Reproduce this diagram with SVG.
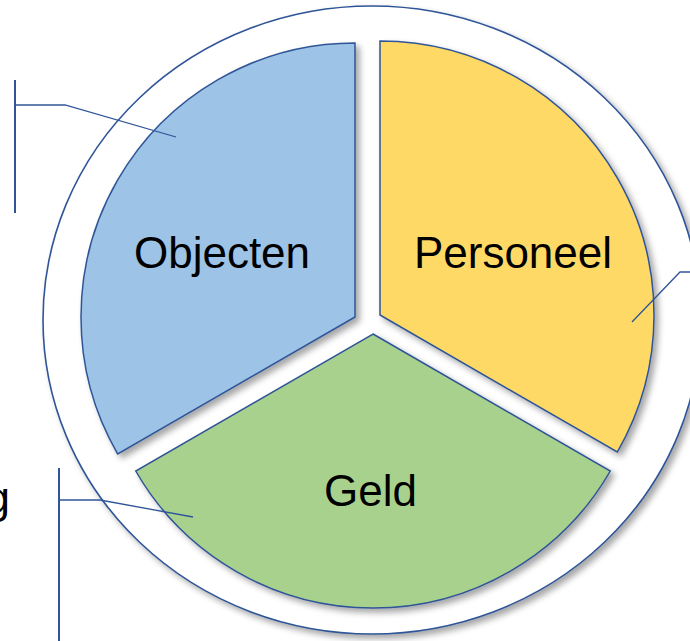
<svg xmlns="http://www.w3.org/2000/svg" width="690" height="641" viewBox="0 0 690 641">
<defs>
<filter id="sh" x="-10%" y="-10%" width="130%" height="130%">
<feDropShadow dx="4" dy="4" stdDeviation="3" flood-color="#000" flood-opacity="0.35"/>
</filter>
</defs>
<style>
.lbl{font-family:"Liberation Sans",Arial,sans-serif;font-size:44px;fill:#000;text-anchor:middle}
.sec{stroke:#2F5597;stroke-width:1.5;filter:url(#sh)}
.co{fill:none;stroke:#2F5597;stroke-width:1.3}
.bar{fill:none;stroke:#2F5597;stroke-width:2}
</style>
<rect width="690" height="641" fill="#fff"/>
<g id="outer">
<ellipse cx="372" cy="320" rx="329" ry="314" fill="#fff" stroke="#2F5597" stroke-width="1.6" filter="url(#sh)"/>
</g>
<g id="objecten">
<path class="sec" fill="#9DC3E6" d="M355,317 L117.7,454 A274,274 0 0 1 355,43 Z"/>
<text class="lbl" x="222" y="268">Objecten</text>
</g>
<g id="personeel">
<path class="sec" fill="#FFD966" d="M380,315 L380,41 A274,274 0 0 1 617.3,452 Z"/>
<text class="lbl" x="513" y="268">Personeel</text>
</g>
<g id="geld">
<path class="sec" fill="#A9D18E" d="M373,334 L610.3,471 A274,274 0 0 1 135.7,471 Z"/>
<text class="lbl" x="370.5" y="506">Geld</text>
</g>
<g id="connectors">
<line class="bar" x1="15" y1="80" x2="15" y2="213"/>
<polyline class="co" points="15,105 65,105 176,137"/>
<line class="bar" x1="59" y1="468" x2="59" y2="641"/>
<polyline class="co" points="59,500 100,500 193,517"/>
<polyline class="co" points="632,322 680,272 690,272"/>
</g>
<g id="cut-label">
<text class="lbl" x="-14.5" y="513" style="text-anchor:start">g</text>
</g>
</svg>
